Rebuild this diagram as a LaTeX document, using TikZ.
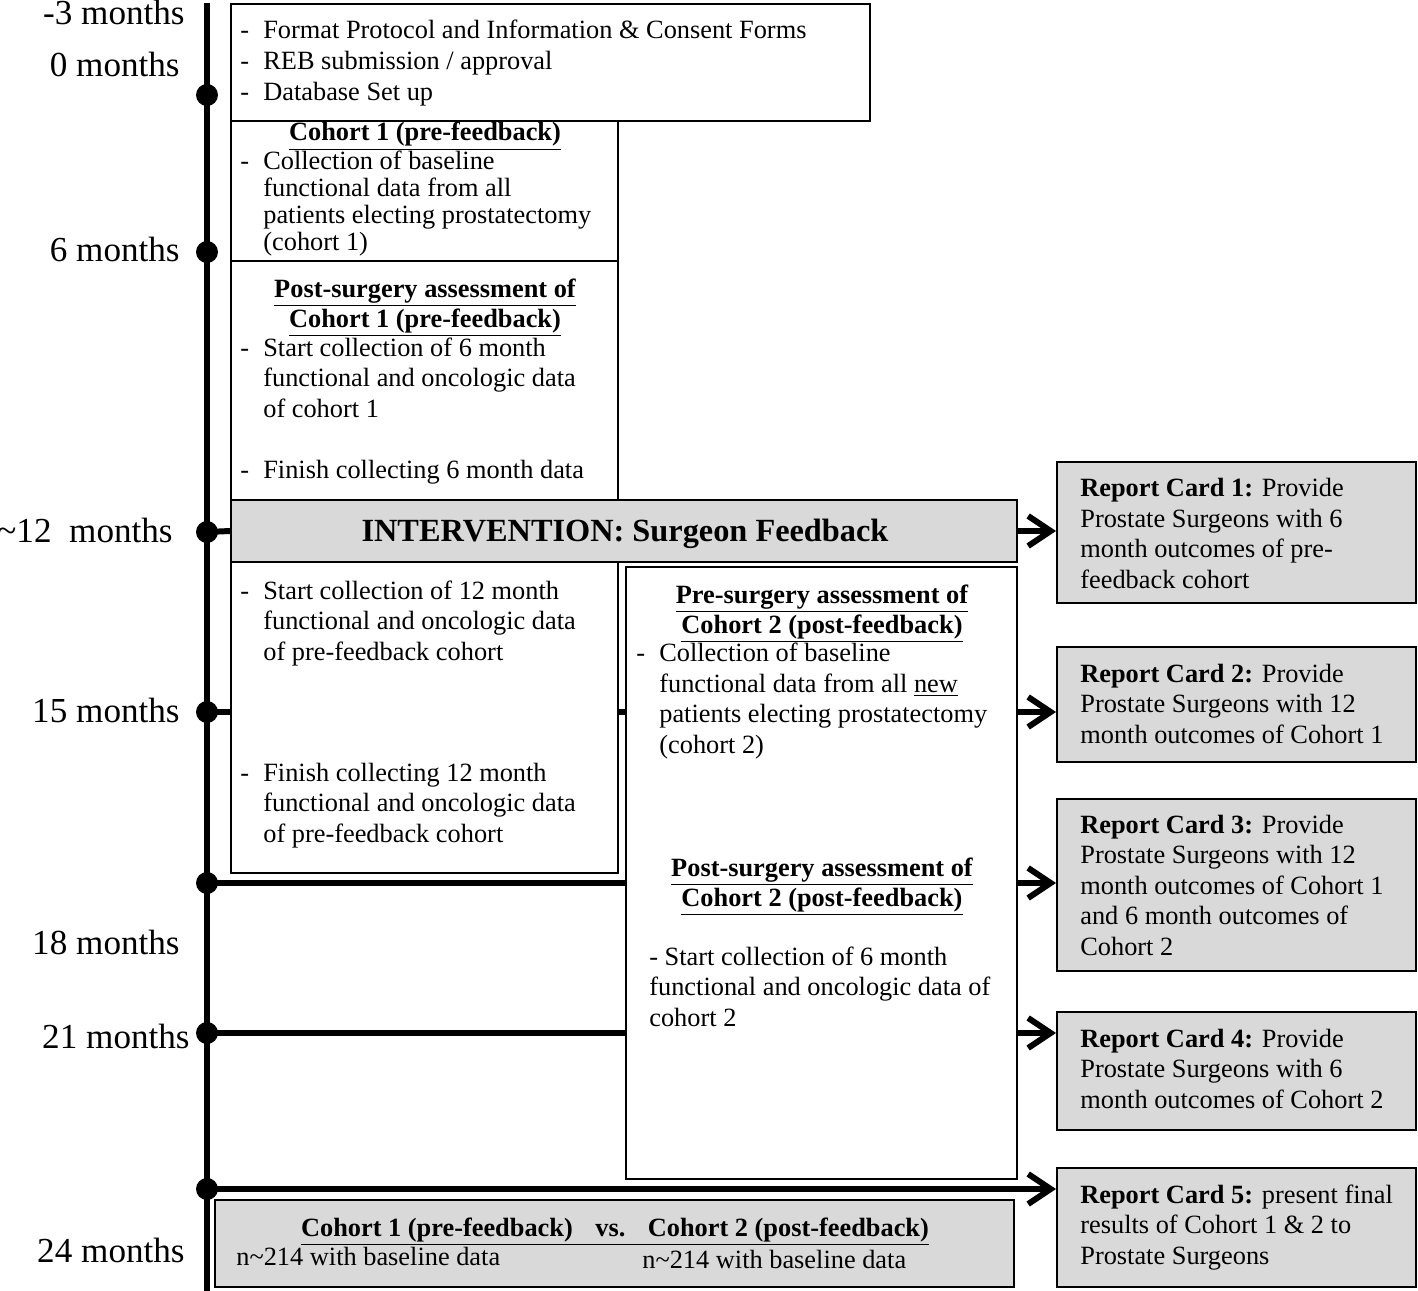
\documentclass[tikz,border=0pt]{standalone}
\usepackage{fontspec}
\setmainfont{Liberation Serif}
\usetikzlibrary{arrows.meta,fit,backgrounds}
\definecolor{cardgray}{RGB}{217,217,217}
\newcommand{\itemdash}{\makebox[0.46cm][l]{-}}
\newcommand{\itemgap}{\hspace*{0.46cm}}
\tikzset{
  plain/.style={draw, line width=1.1pt, fill=white, inner sep=0pt},
  shaded/.style={draw, line width=1.1pt, fill=cardgray, inner sep=0pt},
  txt/.style={anchor=base west, align=left, inner sep=0pt, font=\fontsize{15}{17.3}\selectfont},
  head/.style={anchor=base, align=center, inner sep=0pt, font=\fontsize{15}{17}\selectfont\bfseries},
  month/.style={anchor=base east, inner sep=0pt, font=\fontsize{20}{24}\selectfont},
  tline/.style={line width=3.4pt},
  arr/.style={tline, -{Straight Barb[length=0.45cm, width=0.6cm]}},
  tick/.style={circle, fill=black, minimum size=0.44cm, inner sep=0pt}
}
\begin{document}
\begin{tikzpicture}[x=0.02cm, y=-0.02cm]
\useasboundingbox (0,0) rectangle (1418,1291);

% months
\node[month] (lm3)  at (185,25)   {-3 months};
\node[month] (l0)   at (180,77)   {0 months};
\node[month] (l6)   at (180,261)  {6 months};
\node[month] (l12)  at (173,542)  {\textasciitilde12\ \ months};
\node[month] (l15)  at (180,722)  {15 months};
\node[month] (l18)  at (180,954)  {18 months};
\node[month] (l21)  at (190,1048) {21 months};
\node[month] (l24)  at (185,1262) {24 months};

% boxes
\node[plain, fit={(231,4) (870,121)}] (prep) {};
\node[plain, fit={(231,121) (618,261)}] (baseone) {};
\node[plain, fit={(231,261) (618,500)}] (postone) {};
\node[shaded, fit={(231,500) (1017,562)}] (feedback) {};
\node[plain, fit={(231,562) (618,873)}] (yearone) {};
\node[plain, fit={(626,567) (1017,1179)}] (cohorttwo) {};
\node[shaded, fit={(215,1200) (1014,1287)}] (compare) {};
\node[shaded, fit={(1057,462) (1416,603)}] (card1) {};
\node[shaded, fit={(1057,647) (1416,762)}] (card2) {};
\node[shaded, fit={(1057,799) (1416,971)}] (card3) {};
\node[shaded, fit={(1057,1012) (1416,1130)}] (card4) {};
\node[shaded, fit={(1057,1168) (1416,1287)}] (card5) {};

% texts (base = last line)
\node[txt, font=\fontsize{15}{17.9}\selectfont] (prepTxt) at (240,101)
  {\itemdash Format Protocol and Information \& Consent Forms\\
   \itemdash REB submission / approval\\
   \itemdash Database Set up};
\node[head] (baseoneHd) at (425,141) {\underline{Cohort 1 (pre-feedback)}};
\node[txt, font=\fontsize{15}{15.5}\selectfont] (baseoneTxt) at (240,251)
  {\itemdash Collection of baseline\\
   \itemgap functional data from all\\
   \itemgap patients electing prostatectomy\\
   \itemgap (cohort 1)};
\node[head] (postoneHd) at (425,327)
  {\underline{Post-surgery assessment of}\\\underline{Cohort 1 (pre-feedback)}};
\node[txt] (postoneTxt) at (240,417)
  {\itemdash Start collection of 6 month\\
   \itemgap functional and oncologic data\\
   \itemgap of cohort 1};
\node[txt] (postoneEnd) at (240,478) {\itemdash Finish collecting 6 month data};
\node[font=\fontsize{18.4}{21}\selectfont\bfseries, anchor=base, inner sep=0pt]
  (feedbackTxt) at (625,541) {INTERVENTION: Surgeon Feedback};
\node[txt] (yearoneTxt) at (240,660)
  {\itemdash Start collection of 12 month\\
   \itemgap functional and oncologic data\\
   \itemgap of pre-feedback cohort};
\node[txt] (yearoneEnd) at (240,842)
  {\itemdash Finish collecting 12 month\\
   \itemgap functional and oncologic data\\
   \itemgap of pre-feedback cohort};
\node[head] (pretwoHd) at (822,633)
  {\underline{Pre-surgery assessment of}\\\underline{Cohort 2 (post-feedback)}};
\node[txt] (pretwoTxt) at (636,753)
  {\itemdash Collection of baseline\\
   \itemgap functional data from all \underline{new}\\
   \itemgap patients electing prostatectomy\\
   \itemgap (cohort 2)};
\node[head] (posttwoHd) at (822,906)
  {\underline{Post-surgery assessment of}\\\underline{Cohort 2 (post-feedback)}};
\node[txt] (posttwoTxt) at (649,1026)
  {- Start collection of 6 month\\
   functional and oncologic data of\\
   cohort 2};
\node[head] (compareHd) at (615,1236)
  {\underline{Cohort 1 (pre-feedback)\hspace{0.45cm}vs.\hspace{0.45cm}Cohort 2 (post-feedback)}};
\node[txt] (compareL) at (236,1265) {n\textasciitilde214 with baseline data};
\node[txt] (compareR) at (642,1268) {n\textasciitilde214 with baseline data};

\node[txt] (card1Txt) at (1080,588)
  {\textbf{Report Card 1:} Provide\\Prostate Surgeons with 6\\month outcomes of pre-\\feedback cohort};
\node[txt] (card2Txt) at (1080,743)
  {\textbf{Report Card 2:} Provide\\Prostate Surgeons with 12\\month outcomes of Cohort 1};
\node[txt] (card3Txt) at (1080,955)
  {\textbf{Report Card 3:} Provide\\Prostate Surgeons with 12\\month outcomes of Cohort 1\\and 6 month outcomes of\\Cohort 2};
\node[txt] (card4Txt) at (1080,1108)
  {\textbf{Report Card 4:} Provide\\Prostate Surgeons with 6\\month outcomes of Cohort 2};
\node[txt] (card5Txt) at (1080,1264)
  {\textbf{Report Card 5:} present final\\results of Cohort 1 \& 2 to\\Prostate Surgeons};

% time line
\node[tick] (t0)  at (207,95)   {};
\node[tick] (t6)  at (207,252)  {};
\node[tick] (t12) at (207,532)  {};
\node[tick] (t15) at (207,712)  {};
\node[tick] (t18) at (207,883)  {};
\node[tick] (t21) at (207,1033) {};
\node[tick] (t24) at (207,1189) {};
\begin{scope}[on background layer]
  \draw[tline] (207,3) -- (207,1291);
  \draw[tline] (t12.center) -- (feedback.west);
  \foreach \t in {t15,t18,t21}
    \draw[tline] (\t.center) -- (\t -| cohorttwo.west);
\end{scope}
\draw[arr] (t24.center) -- (t24 -| card5.west);
\draw[arr] (feedback.east) -- (feedback.east -| card1.west);
\draw[arr] (t15 -| cohorttwo.east) -- (t15 -| card2.west);
\draw[arr] (t18 -| cohorttwo.east) -- (t18 -| card3.west);
\draw[arr] (t21 -| cohorttwo.east) -- (t21 -| card4.west);
\end{tikzpicture}
\end{document}
